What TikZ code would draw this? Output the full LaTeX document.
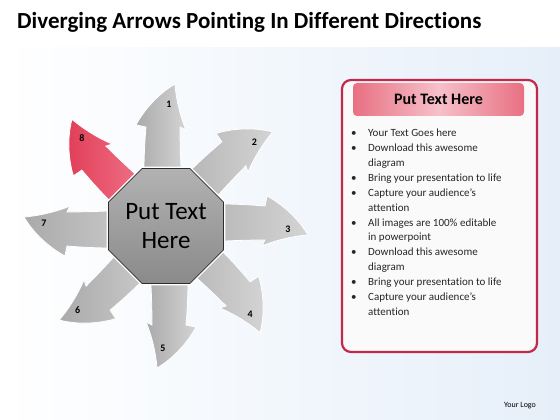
\documentclass[tikz,border=0pt]{standalone}
\usepackage{fontspec}
\setmainfont{Carlito}[Ligatures=NoCommon]
\usepackage{tikz}
\usetikzlibrary{shapes.geometric}
\usepackage{xcolor}
\definecolor{bgblue}{RGB}{230,239,249}
\definecolor{shaftgray}{RGB}{170,170,170}
\definecolor{headgray}{RGB}{212,212,212}
\definecolor{shaftred}{RGB}{226,62,88}
\definecolor{headred}{RGB}{243,140,158}
\definecolor{hubtop}{RGB}{178,178,178}
\definecolor{hubbot}{RGB}{138,138,138}
\definecolor{panelred}{RGB}{192,42,72}
\definecolor{paneltop}{RGB}{232,112,130}
\definecolor{panelmid}{RGB}{247,192,202}

\begin{document}
\begin{tikzpicture}[x=1pt,y=1pt]
\tikzstyle{arrowbody} = [draw=white, line width=0.8pt, line join=miter];
\tikzstyle{num} = [font=\bfseries\fontsize{10}{10}\selectfont, inner sep=0pt];
\tikzstyle{hub} = [regular polygon, regular polygon sides=8, minimum size=117pt,
inner sep=0pt, draw=gray!35!black, line width=0.8pt, top color=hubtop, bottom color=hubbot,
align=center, font=\fontsize{25}{29}\selectfont, preaction={draw=white, line width=3.5pt}];
\tikzstyle{title} = [font=\bfseries\fontsize{23}{23}\selectfont, inner sep=0pt];
\tikzstyle{panel} = [rectangle, draw=panelred, line width=2.2pt, fill=gray!4,
rounded corners=9pt, minimum width=195pt, minimum height=272pt];
\tikzstyle{header} = [rectangle, rounded corners=4pt, minimum width=171pt, minimum height=33pt,
left color=paneltop, right color=paneltop, middle color=panelmid,
font=\bfseries\fontsize{16}{16}\selectfont];

% background
\useasboundingbox (0,0) rectangle (560,420);
\fill[white] (0,0) rectangle (560,420);
\shade[left color=white, right color=bgblue] (0,0) rectangle (560,372);

\node[title, anchor=west] (title) at (17,398) {Diverging Arrows Pointing In Different Directions};

% arrows
\coordinate (c) at (166,194);
\foreach \n/\a/\lc/\rc in {1/90/shaftgray/headgray, 2/45/shaftgray/headgray,
  3/0/shaftgray/headgray, 4/-45/shaftgray/headgray, 5/-90/shaftgray/headgray,
  6/-135/shaftgray/headgray, 7/180/shaftgray/headgray, 8/135/shaftred/headred}
{
  \begin{scope}[shift={(c)}, rotate=\a]
  \shade[arrowbody, left color=\lc, right color=\rc] (0,-18) -- (0,18)
    .. controls (40,24) and (75,22) .. (99,20) -- (101,30)
    .. controls (116,22) and (132,8) .. (142,-9)
    .. controls (128,-10) and (110,-14) .. (96,-20) -- (99,-14)
    .. controls (70,-14) and (40,-16) .. (0,-18) -- cycle;
  \node[num] (n\n) at (122,-3) {\n};
  \end{scope}
}
\node[hub] (center) at (c) {Put Text\\Here};

% text box
\node[panel] (box) at (439.5,204) {};
\node[header] (head) at (438.5,320.5) {Put Text Here};
\node[anchor=north west, inner sep=0pt, text=black!85,
font=\fontsize{11}{14.9}\selectfont] (list) at (351,294) {%
\begin{tabular}{@{}p{17pt}@{}l@{}}
\textbullet & Your Text Goes here\\
\textbullet & Download this awesome\\
 & diagram\\
\textbullet & Bring your presentation to life\\
\textbullet & Capture your audience’s\\
 & attention\\
\textbullet & All images are 100\% editable\\
 & in powerpoint\\
\textbullet & Download this awesome\\
 & diagram\\
\textbullet & Bring your presentation to life\\
\textbullet & Capture your audience’s\\
 & attention
\end{tabular}};

\node[font=\fontsize{8}{8}\selectfont] (logo) at (520,14) {Your Logo};
\end{tikzpicture}
\end{document}
